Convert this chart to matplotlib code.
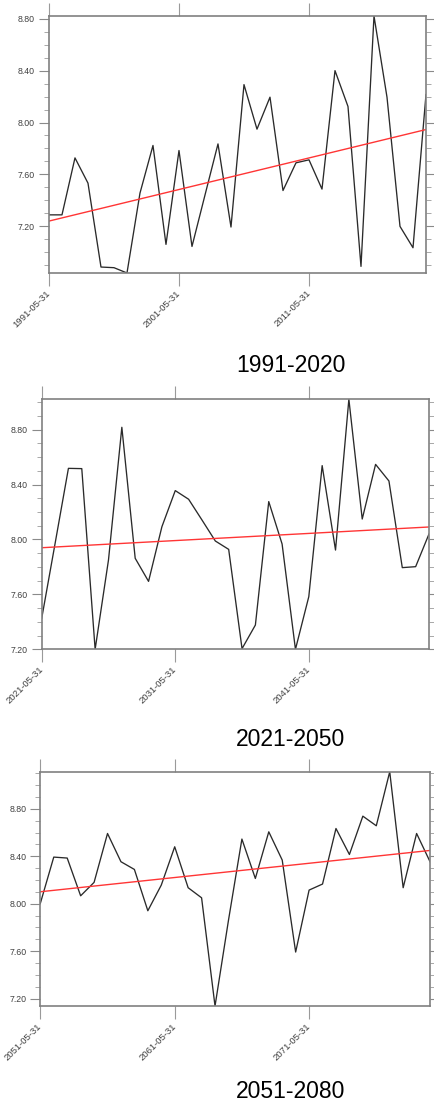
import matplotlib.pyplot as plt
from matplotlib.ticker import MultipleLocator
import numpy as np

plt.rcParams['font.family'] = ['Liberation Sans', 'DejaVu Sans']

# series values, one per year
years_1 = list(range(1991, 2021))
vals_1 = [7.287, 7.287, 7.727, 7.532, 6.884, 6.879, 6.838, 7.455, 7.823, 7.059,
          7.784, 7.043, 7.44, 7.835, 7.193, 8.293, 7.949, 8.196, 7.475, 7.689,
          7.712, 7.486, 8.401, 8.124, 6.889, 8.823, 8.196, 7.198, 7.033, 8.216]
trend_1 = [7.239, 7.946]

years_2 = list(range(2021, 2051))
vals_2 = [7.426, 7.97, 8.518, 8.516, 7.20, 7.851, 8.817, 7.863, 7.695, 8.093,
          8.356, 8.293, 8.142, 7.989, 7.928, 7.205, 7.377, 8.276, 7.967, 7.20,
          7.584, 8.538, 7.923, 9.021, 8.149, 8.547, 8.426, 7.795, 7.802, 8.040]
trend_2 = [7.940, 8.091]

years_3 = list(range(2051, 2081))
vals_3 = [8.003, 8.393, 8.385, 8.067, 8.180, 8.592, 8.354, 8.289, 7.941, 8.157,
          8.480, 8.135, 8.050, 7.138, 7.86, 8.545, 8.213, 8.606, 8.368, 7.593,
          8.115, 8.166, 8.634, 8.415, 8.738, 8.657, 9.112, 8.135, 8.592, 8.354]
trend_3 = [8.101, 8.449]

titles = ['1991-2020', '2021-2050', '2051-2080']
tick_years = [[1991, 2001, 2011], [2021, 2031, 2041], [2051, 2061, 2071]]

# axes boxes in figure fractions, and title centres in pixels
boxes = [[0.1126, 0.7525, 0.8667, 0.2330],
         [0.0959, 0.4113, 0.8903, 0.2267],
         [0.0927, 0.0879, 0.8959, 0.2124]]
title_xy = [(291, 366), (291, 740), (291, 1091)]

W, H = 435, 1103
fig = plt.figure(figsize=(W / 100, H / 100), dpi=100)

data = [(years_1, vals_1, trend_1), (years_2, vals_2, trend_2), (years_3, vals_3, trend_3)]
frame = '#808080'

for k, (yrs, vals, trend) in enumerate(data):
    ax = fig.add_axes(boxes[k])
    ax.plot(yrs, vals, color='#2a2a2a', lw=0.95)
    ax.plot([yrs[0], yrs[-1]], trend, color='#ff3535', lw=1.0)
    ax.set_xlim(yrs[0], yrs[-1])
    ax.set_ylim(min(vals), max(vals))

    ax.set_xticks(tick_years[k])
    ax.set_xticklabels([f'{y}-05-31' for y in tick_years[k]], rotation=45,
                       ha='right', va='center', rotation_mode='anchor',
                       fontsize=6.8, color='#404040')
    ax.yaxis.set_major_locator(MultipleLocator(0.4))
    ax.yaxis.set_minor_locator(MultipleLocator(0.1))
    ax.yaxis.set_major_formatter(plt.FuncFormatter(lambda v, p: f'{v:.2f}'))
    for lab in ax.get_yticklabels():
        lab.set_fontsize(6.3)
        lab.set_color('#404040')

    ax.tick_params(axis='x', which='major', direction='out', length=9.5, width=0.8,
                   color='#9a9a9a', top=True, pad=4)
    ax.tick_params(axis='y', which='major', direction='out', length=7, width=0.8,
                   color='#8a8a8a', right=True, pad=3)
    ax.tick_params(axis='y', which='minor', direction='out', length=3.5, width=0.7,
                   color='#a8a8a8', right=True)
    ax.tick_params(axis='x', which='minor', bottom=False, top=False)
    for s in ax.spines.values():
        s.set_color(frame)
        s.set_linewidth(1.2)

    fig.text(title_xy[k][0] / W, 1 - title_xy[k][1] / H, titles[k],
             ha='center', va='center', fontsize=16.5, color='black')

fig.savefig('out.png', dpi=100)
plt.close(fig)
